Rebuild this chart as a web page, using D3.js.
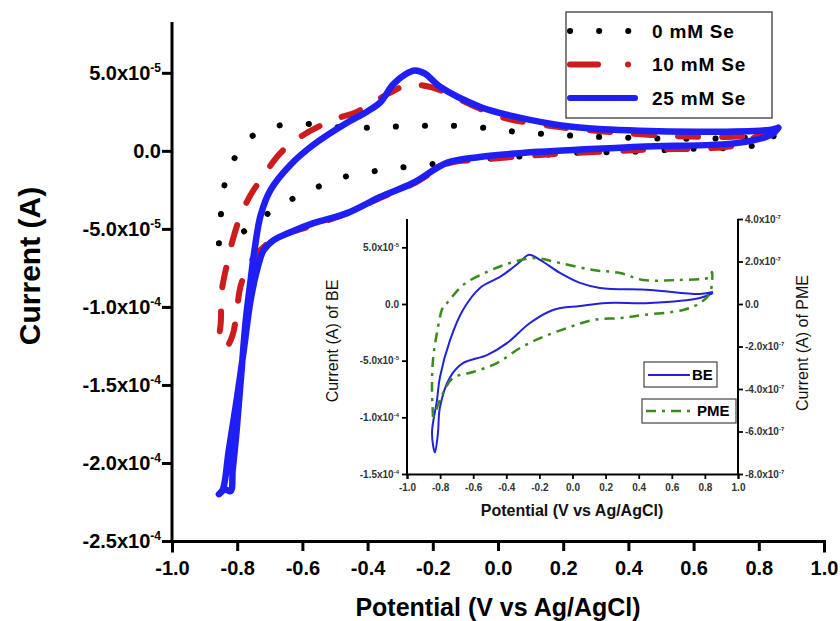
<!DOCTYPE html>
<html>
<head>
<meta charset="utf-8">
<script src="https://cdn.jsdelivr.net/npm/d3@7"></script>
<style>
  html, body { margin: 0; padding: 0; background: #fff; }
  svg { display: block; font-family: "Liberation Sans", Arial, sans-serif; }
</style>
</head>
<body>
<svg id="chart" width="840" height="621"></svg>
<script>
// ---------------- DATA ----------------
// main chart series: [potential V, current A]
const se0 = [
  [-0.856,-5.92e-5],[-0.850,-4.12e-5],[-0.841,-2.38e-5],[-0.814,-7.1e-6],[-0.765,7.7e-6],
  [-0.689,1.54e-5],[-0.597,1.74e-5],[-0.508,1.54e-5],[-0.417,1.48e-5],[-0.331,1.54e-5],
  [-0.240,1.61e-5],[-0.148,1.61e-5],[-0.047,1.48e-5],[0.056,1.22e-5],[0.227,9.7e-6],
  [0.411,8.4e-6],[0.585,7.7e-6],[0.768,8.4e-6],[0.850,9.0e-6],[0.850,7.1e-6],
  [0.762,2.6e-6],[0.585,1.3e-6],[0.402,-0.6e-6],[0.227,-1.3e-6],[0.136,-2.6e-6],
  [0.005,-4.5e-6],[-0.139,-6.4e-6],[-0.218,-9.0e-6],[-0.307,-1.09e-5],[-0.392,-1.35e-5],
  [-0.484,-1.74e-5],[-0.560,-2.38e-5],[-0.637,-3.15e-5],[-0.713,-4.12e-5],[-0.783,-5.21e-5],
  [-0.835,-5.73e-5],[-0.856,-5.92e-5]
];
const se10 = [
  [0.840,1.3e-5],[0.814,1.16e-5],[0.737,3.9e-6],[0.432,0.6e-6],[0.127,-2.6e-6],[-0.056,-5.8e-6],
  [-0.148,-7.7e-6],[-0.261,-2.12e-5],[-0.362,-3.02e-5],[-0.463,-3.99e-5],[-0.576,-4.83e-5],
  [-0.652,-5.34e-5],[-0.713,-6.05e-5],[-0.759,-7.14e-5],[-0.789,-8.62e-5],[-0.802,-1.04e-4],
  [-0.814,-1.18e-4],[-0.832,-1.25e-4],[-0.853,-1.24e-4],[-0.850,-1.09e-4],[-0.847,-8.94e-5],
  [-0.832,-7.34e-5],[-0.814,-5.73e-5],[-0.789,-4.12e-5],[-0.759,-2.83e-5],[-0.722,-1.67e-5],
  [-0.667,-1.3e-6],[-0.606,9.0e-6],[-0.505,1.99e-5],[-0.432,2.51e-5],[-0.353,3.47e-5],
  [-0.301,4.05e-5],[-0.270,4.25e-5],[-0.200,4.05e-5],[-0.096,3.09e-5],[0.005,2.19e-5],
  [0.157,1.61e-5],[0.371,1.16e-5],[0.615,9.0e-6],[0.768,9.7e-6],[0.840,1.3e-5]
];
const se25 = [
  [0.860,1.48e-5],[0.838,1.03e-5],[0.737,5.1e-6],[0.432,2.6e-6],[0.127,-0.6e-6],[-0.056,-3.9e-6],
  [-0.157,-7.7e-6],[-0.261,-2.06e-5],[-0.362,-2.96e-5],[-0.463,-3.99e-5],[-0.566,-4.63e-5],
  [-0.637,-5.21e-5],[-0.689,-5.73e-5],[-0.719,-6.37e-5],[-0.737,-7.46e-5],[-0.759,-9.59e-5],
  [-0.780,-1.28e-4],[-0.802,-1.60e-4],[-0.826,-1.92e-4],[-0.844,-2.17e-4],[-0.856,-2.20e-4],
  [-0.838,-2.17e-4],[-0.820,-2.18e-4],[-0.814,-2.05e-4],[-0.802,-1.80e-4],[-0.789,-1.47e-4],
  [-0.774,-1.09e-4],[-0.759,-8.3e-5],[-0.747,-6.37e-5],[-0.728,-4.12e-5],[-0.698,-2.51e-5],
  [-0.637,-9.0e-6],[-0.566,3.9e-6],[-0.463,1.80e-5],[-0.402,2.51e-5],[-0.362,3.09e-5],
  [-0.322,4.25e-5],[-0.285,4.89e-5],[-0.255,5.15e-5],[-0.224,4.95e-5],[-0.179,4.12e-5],
  [-0.056,2.83e-5],[0.026,2.32e-5],[0.227,1.54e-5],[0.432,1.29e-5],[0.637,1.22e-5],
  [0.838,1.35e-5],[0.860,1.48e-5]
];
const seriesNames = ["0 mM Se", "10 mM Se", "25 mM Se"];

// inset series
const be = [
  [0.849,9.7e-6],[0.770,5.3e-6],[0.468,0.9e-6],[0.208,0.9e-6],[0.045,-1.8e-6],[-0.118,-5.3e-6],
  [-0.257,-1.68e-5],[-0.396,-3.45e-5],[-0.517,-4.51e-5],[-0.662,-5.22e-5],[-0.740,-6.46e-5],
  [-0.801,-9.12e-5],[-0.813,-1.14e-4],[-0.831,-1.31e-4],[-0.849,-1.14e-4],[-0.819,-8.5e-5],
  [-0.801,-6.46e-5],[-0.740,-3.19e-5],[-0.662,-5.3e-6],[-0.559,1.42e-5],[-0.438,2.39e-5],
  [-0.378,3.01e-5],[-0.317,3.72e-5],[-0.263,4.34e-5],[-0.196,3.89e-5],[-0.076,2.74e-5],
  [0.045,1.86e-5],[0.166,1.42e-5],[0.468,1.24e-5],[0.770,8.9e-6],[0.849,1.06e-5]
];
const pme = [
  [-0.843,-5.32e-7],[-0.849,-3.91e-7],[-0.843,-2.64e-7],[-0.819,-1.36e-7],[-0.782,-1.4e-8],
  [-0.758,4.7e-9],[-0.662,8.9e-8],[-0.517,1.51e-7],[-0.378,1.93e-7],[-0.239,2.16e-7],
  [-0.076,1.93e-7],[0.124,1.60e-7],[0.287,1.46e-7],[0.426,1.13e-7],[0.631,1.13e-7],
  [0.831,1.27e-7],[0.843,1.51e-7],[0.831,5.2e-8],[0.770,4.7e-9],[0.668,-2.8e-8],
  [0.426,-5.2e-8],[0.287,-6.6e-8],[0.124,-7.5e-8],[-0.015,-1.08e-7],[-0.178,-1.55e-7],
  [-0.317,-2.07e-7],[-0.456,-2.78e-7],[-0.601,-3.2e-7],[-0.722,-3.48e-7],[-0.782,-4.19e-7],
  [-0.831,-5.13e-7],[-0.843,-5.32e-7]
];
const insetNames = ["BE", "PME"];

// ticks
const xTickValues = [-1.0,-0.8,-0.6,-0.4,-0.2,0.0,0.2,0.4,0.6,0.8,1.0];
const xTickLabels = ["-1.0","-0.8","-0.6","-0.4","-0.2","0.0","0.2","0.4","0.6","0.8","1.0"];
const xMinorTicks = [-0.9,-0.7,-0.5,-0.3,-0.1,0.1,0.3,0.5,0.7,0.9];
const yTickValues = [-2.5e-4,-2.0e-4,-1.5e-4,-1.0e-4,-5.0e-5,0,5.0e-5];
const yTickLabels = ["-2.5x10^-4","-2.0x10^-4","-1.5x10^-4","-1.0x10^-4","-5.0x10^-5","0.0","5.0x10^-5"];
const yMinorTicks = [-2.25e-4,-1.75e-4,-1.25e-4,-7.5e-5,-2.5e-5,2.5e-5,7.5e-5];
const insLTickValues = [-1.5e-4,-1.0e-4,-5.0e-5,0,5.0e-5];
const insLTickLabels = ["-1.5x10^-4","-1.0x10^-4","-5.0x10^-5","0.0","5.0x10^-5"];
const insLMinor = [-1.25e-4,-7.5e-5,-2.5e-5,2.5e-5,7.5e-5];
const insRTickValues = [-8e-7,-6e-7,-4e-7,-2e-7,0,2e-7,4e-7];
const insRTickLabels = ["-8.0x10^-7","-6.0x10^-7","-4.0x10^-7","-2.0x10^-7","0.0","2.0x10^-7","4.0x10^-7"];
const insRMinor = [-7e-7,-5e-7,-3e-7,-1e-7,1e-7,3e-7];

// ---------------- DRAW ----------------
const svg = d3.select("#chart");
const FONT = '"Liberation Sans", Arial, sans-serif';

function sciText(sel, str, size, supScale) {
  const parts = str.split("^");
  sel.text(null);
  sel.append("tspan").text(parts[0]);
  if (parts.length > 1) {
    sel.append("tspan").attr("dy", -size * 0.4).attr("font-size", size * (supScale || 0.62)).text(parts[1]);
  }
}

// main scales
const x = d3.scaleLinear().domain([-1, 1]).range([172, 824]);
const y = d3.scaleLinear().domain([-2.5e-4, 8e-5]).range([541, 26]);

const line = d3.line().x(d => x(d[0])).y(d => y(d[1])).curve(d3.curveCatmullRom.alpha(0.5));

const styles = [
  { color: "#000000", width: 6, dash: "0.1,29", lg: "0.1,29" },
  { color: "#cc1c1c", width: 6, dash: "20,24", lg: "28,30,0.1,40" },
  { color: "#1e1ef5", width: 6.5, dash: null, lg: null }
];
const mainData = [se0, se10, se25];

const plot = svg.append("g");
mainData.forEach((d, i) => {
  plot.append("path").datum(d).attr("d", line)
    .attr("fill", "none").attr("stroke", styles[i].color).attr("stroke-width", styles[i].width)
    .attr("stroke-linecap", "round").attr("stroke-linejoin", "round")
    .attr("stroke-dasharray", styles[i].dash);
});

// main axes
const axW = 3;
const gx = svg.append("g").attr("transform", `translate(0,${y(-2.5e-4)})`);
gx.call(d3.axisBottom(x).tickValues(xMinorTicks).tickSize(6).tickFormat(""));
gx.call(d3.axisBottom(x).tickValues(xTickValues).tickSize(10).tickFormat((d, i) => xTickLabels[i]));
gx.selectAll("path.domain").attr("stroke-width", axW).attr("stroke", "#000");
gx.selectAll(".tick line").attr("stroke-width", axW).attr("stroke", "#000");
gx.selectAll(".tick text").attr("font-family", FONT).attr("font-size", 20).attr("font-weight", "bold")
  .attr("fill", "#000").attr("dy", "1.05em");

const gy = svg.append("g").attr("transform", `translate(${x(-1)},0)`);
gy.call(d3.axisLeft(y).tickValues(yMinorTicks).tickSize(6).tickFormat(""));
gy.call(d3.axisLeft(y).tickValues(yTickValues).tickSize(10).tickFormat(""));
gy.selectAll("path.domain").remove();
gy.append("line").attr("x1", 0).attr("x2", 0).attr("y1", y(8e-5) - 4).attr("y2", y(-2.5e-4))
  .attr("stroke", "#000").attr("stroke-width", axW);
gy.selectAll(".tick line").attr("stroke-width", axW).attr("stroke", "#000");
yTickValues.forEach((v, i) => {
  const t = gy.append("text").attr("x", -11).attr("y", y(v)).attr("dy", "0.36em")
    .attr("text-anchor", "end").attr("font-family", FONT).attr("font-size", 20).attr("font-weight", "bold")
    .attr("fill", "#000");
  sciText(t, yTickLabels[i], 20, 0.6);
});
svg.selectAll(".domain").attr("stroke-linecap", "square");

// axis titles
svg.append("text").attr("x", x(0)).attr("y", 616).attr("text-anchor", "middle")
  .attr("font-family", FONT).attr("font-size", 25).attr("font-weight", "bold").text("Potential (V vs Ag/AgCl)");
svg.append("text").attr("transform", `translate(40,266) rotate(-90)`).attr("text-anchor", "middle")
  .attr("font-family", FONT).attr("font-size", 30).attr("font-weight", "bold").text("Current (A)");

// main legend
const lg = svg.append("g");
lg.append("rect").attr("x", 566).attr("y", 12).attr("width", 206).attr("height", 106)
  .attr("fill", "#fff").attr("stroke", "#555").attr("stroke-width", 1.5);
seriesNames.forEach((n, i) => {
  const yy = 31 + i * 33.5;
  lg.append("line").attr("x1", 570).attr("x2", 635).attr("y1", yy).attr("y2", yy)
    .attr("stroke", styles[i].color).attr("stroke-width", 6).attr("stroke-linecap", "round")
    .attr("stroke-dasharray", styles[i].lg);
  lg.append("text").attr("x", 652).attr("y", yy).attr("dy", "0.36em")
    .attr("font-family", FONT).attr("font-size", 19).attr("font-weight", "bold").attr("letter-spacing", 0.8).text(n);
});

// ---------------- INSET ----------------
const ix = d3.scaleLinear().domain([-1, 1]).range([407, 738]);
const iyL = d3.scaleLinear().domain([-1.5e-4, 7.5e-5]).range([474, 219]);
const iyR = d3.scaleLinear().domain([-8e-7, 4e-7]).range([474, 219]);
const ins = svg.append("g");
const tickCol = "#333";

ins.append("path").datum(be)
  .attr("d", d3.line().x(d => ix(d[0])).y(d => iyL(d[1])).curve(d3.curveCatmullRom.alpha(0.5)))
  .attr("fill", "none").attr("stroke", "#2222dd").attr("stroke-width", 2);
ins.append("path").datum(pme)
  .attr("d", d3.line().x(d => ix(d[0])).y(d => iyR(d[1])).curve(d3.curveCatmullRom.alpha(0.5)))
  .attr("fill", "none").attr("stroke", "#3a8a1c").attr("stroke-width", 2.5)
  .attr("stroke-dasharray", "10,6,3,6");

function styleAxis(g) {
  g.selectAll("path.domain").attr("stroke", "#000").attr("stroke-width", 2);
  g.selectAll(".tick line").attr("stroke", "#000").attr("stroke-width", 1.8);
}
const ixMinor = [-0.9,-0.7,-0.5,-0.3,-0.1,0.1,0.3,0.5,0.7,0.9];
const igx = ins.append("g").attr("transform", `translate(0,474)`);
igx.call(d3.axisBottom(ix).tickValues(ixMinor).tickSize(3).tickFormat(""));
igx.call(d3.axisBottom(ix).tickValues(xTickValues).tickSize(5).tickFormat((d, i) => xTickLabels[i]));
styleAxis(igx);
igx.selectAll(".tick text").attr("font-family", FONT).attr("font-size", 10).attr("font-weight", "bold")
  .attr("fill", tickCol).attr("dy", "0.9em");

const igl = ins.append("g").attr("transform", `translate(407,0)`);
igl.call(d3.axisLeft(iyL).tickValues(insLMinor).tickSize(3).tickFormat(""));
igl.call(d3.axisLeft(iyL).tickValues(insLTickValues).tickSize(5).tickFormat(""));
igl.selectAll("path.domain").remove();
igl.append("line").attr("y1", 219).attr("y2", 474).attr("stroke", "#000").attr("stroke-width", 2);
styleAxis(igl);
insLTickValues.forEach((v, i) => {
  const t = igl.append("text").attr("x", -8).attr("y", iyL(v)).attr("dy", "0.36em").attr("text-anchor", "end")
    .attr("font-family", FONT).attr("font-size", 10).attr("font-weight", "bold").attr("fill", tickCol);
  sciText(t, insLTickLabels[i], 10, 0.6);
});

const igr = ins.append("g").attr("transform", `translate(738,0)`);
igr.call(d3.axisRight(iyR).tickValues(insRMinor).tickSize(3).tickFormat(""));
igr.call(d3.axisRight(iyR).tickValues(insRTickValues).tickSize(5).tickFormat(""));
igr.selectAll("path.domain").remove();
igr.append("line").attr("y1", 219).attr("y2", 474).attr("stroke", "#000").attr("stroke-width", 2);
styleAxis(igr);
insRTickValues.forEach((v, i) => {
  const t = igr.append("text").attr("x", 7).attr("y", iyR(v)).attr("dy", "0.36em").attr("text-anchor", "start")
    .attr("font-family", FONT).attr("font-size", 10).attr("font-weight", "bold").attr("fill", tickCol);
  sciText(t, insRTickLabels[i], 10, 0.6);
});

ins.append("text").attr("x", 572).attr("y", 516).attr("text-anchor", "middle")
  .attr("font-family", FONT).attr("font-size", 16).attr("font-weight", "bold").attr("fill", "#111")
  .text("Potential (V vs Ag/AgCl)");
ins.append("text").attr("transform", `translate(338,341) rotate(-90)`).attr("text-anchor", "middle")
  .attr("font-family", FONT).attr("font-size", 16).attr("fill", "#111").text("Current (A) of BE");
ins.append("text").attr("transform", `translate(808,343) rotate(-90)`).attr("text-anchor", "middle")
  .attr("font-family", FONT).attr("font-size", 16).attr("fill", "#111").text("Current (A) of PME");

// inset legend
const il = ins.append("g");
il.append("rect").attr("x", 644).attr("y", 362).attr("width", 73).attr("height", 25)
  .attr("fill", "#fff").attr("stroke", "#444").attr("stroke-width", 1.2);
il.append("line").attr("x1", 648).attr("x2", 690).attr("y1", 375).attr("y2", 375)
  .attr("stroke", "#2222dd").attr("stroke-width", 2);
il.append("text").attr("x", 692).attr("y", 375).attr("dy", "0.36em")
  .attr("font-family", FONT).attr("font-size", 15).attr("font-weight", "bold").text(insetNames[0]);
il.append("rect").attr("x", 642).attr("y", 399).attr("width", 94).attr("height", 24)
  .attr("fill", "#fff").attr("stroke", "#444").attr("stroke-width", 1.2);
il.append("line").attr("x1", 646).attr("x2", 696).attr("y1", 411).attr("y2", 411)
  .attr("stroke", "#3a8a1c").attr("stroke-width", 2.5).attr("stroke-dasharray", "10,6,3,6");
il.append("text").attr("x", 697).attr("y", 411).attr("dy", "0.36em")
  .attr("font-family", FONT).attr("font-size", 15).attr("font-weight", "bold").text(insetNames[1]);
</script>
</body>
</html>
